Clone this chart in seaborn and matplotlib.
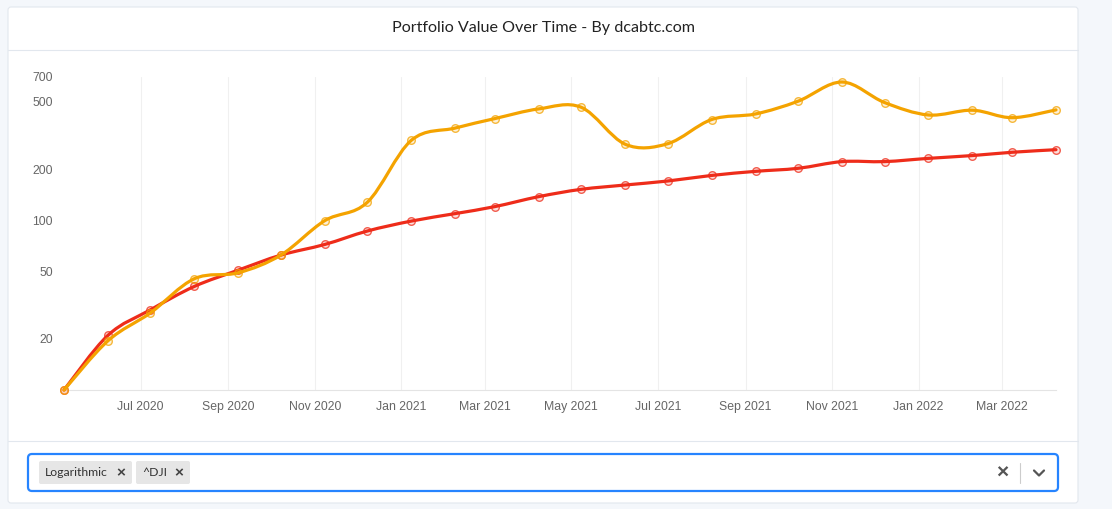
import numpy as np
import pandas as pd
import seaborn as sns
import matplotlib
matplotlib.use("Agg")
import matplotlib.pyplot as plt
import matplotlib.dates as mdates
from matplotlib.path import Path
from matplotlib.patches import PathPatch, FancyBboxPatch

# data (monthly, log scale)
dates = pd.date_range("2020-05-01", "2022-04-01", freq="MS") + pd.Timedelta(days=7)
portfolio = [10, 19.5, 28.5, 45.3, 49.1, 62.4, 99.6, 127.7, 296, 350, 398, 454,
             464, 281, 283, 393, 424, 504, 654, 495, 418, 446, 403, 448]
dji = [10, 21, 29.7, 40.8, 50.9, 62.4, 72.1, 86.5, 99, 109.6, 120.5, 138,
       152.4, 161.6, 170.6, 184, 194.5, 202.7, 222, 222, 232, 241, 252, 261]
y_ticks = [20, 50, 100, 200, 500, 700]
tags = ["Logarithmic", "^DJI"]
title = "Portfolio Value Over Time - By dcabtc.com"

ORANGE = "#f4a300"
RED = "#ee2c1a"
W, H = 1112, 509

sns.set_style("white")
plt.rcParams["font.family"] = ["Liberation Sans", "DejaVu Sans"]


def px_rect(l, t, r, b):
    return [l / W, 1 - b / H, (r - l) / W, (b - t) / H]


def smooth_path(x, y):
    """cubic bezier through the points (catmull-rom tangents, in log-y space)"""
    pts = np.column_stack([mdates.date2num(x), np.log10(y)])
    n = len(pts)
    verts = [pts[0]]
    codes = [Path.MOVETO]
    for i in range(n - 1):
        p0, p1 = pts[max(i - 1, 0)], pts[i]
        p2, p3 = pts[i + 1], pts[min(i + 2, n - 1)]
        verts += [p1 + (p2 - p0) / 6, p2 - (p3 - p1) / 6, p2]
        codes += [Path.CURVE4] * 3
    verts = np.array(verts)
    verts[:, 1] = 10 ** verts[:, 1]
    return Path(verts, codes)


fig = plt.figure(figsize=(W / 100, H / 100), dpi=100)
fig.patch.set_facecolor("#f4f7fb")

# background / card ui layer
ui = fig.add_axes([0, 0, 1, 1], zorder=0)
ui.set_xlim(0, W)
ui.set_ylim(H, 0)
ui.axis("off")
ui.add_patch(FancyBboxPatch((8, 7), 1070, 496, boxstyle="round,pad=0,rounding_size=3",
                            fc="white", ec="#e2e7ee", lw=0.8))
ui.plot([8, 1078], [50, 50], color="#e2e7ee", lw=0.8)
ui.plot([8, 1078], [441, 441], color="#e2e7ee", lw=0.8)
ui.text(543, 28, title, ha="center", va="center", fontsize=11.6, color="#222222",
        family=["Lato", "DejaVu Sans"])

# select box
ui.add_patch(FancyBboxPatch((28, 454), 1030, 37, boxstyle="round,pad=0,rounding_size=4",
                            fc="white", ec="#2684ff", lw=1.6))
tag_x = 39
for t in tags:
    tw = 93 if t == "Logarithmic" else 54
    ui.add_patch(FancyBboxPatch((tag_x, 461), tw, 23, boxstyle="round,pad=0,rounding_size=2",
                                fc="#e6e6e6", ec="none"))
    ui.text(tag_x + 6, 472.5, t, ha="left", va="center", fontsize=8.8, color="#333333",
            family=["Lato", "DejaVu Sans"])
    ui.text(tag_x + tw - 11, 473, "\u00d7", ha="center", va="center", fontsize=11,
            color="#444444", fontweight="bold")
    tag_x += tw + 4
ui.text(1002, 473, "\u00d7", ha="center", va="center", fontsize=15, color="#555555",
        fontweight="bold")
ui.plot([1020, 1020], [463, 483], color="#cccccc", lw=0.8)
ui.plot([1034, 1039, 1044], [470.5, 475.5, 470.5], color="#555555", lw=1.6,
        solid_capstyle="round", solid_joinstyle="round")

# chart
ax = fig.add_axes(px_rect(64, 77, 1056, 390), zorder=1)
ax.patch.set_alpha(0)
ax.set_yscale("log")
ax.set_ylim(10, 700)
ax.set_xlim(mdates.date2num(dates[0]), mdates.date2num(dates[-1]))

for vals, color, z in [(dji, RED, 3), (portfolio, ORANGE, 4)]:
    ax.add_patch(PathPatch(smooth_path(dates, vals), fc="none", ec=color, lw=2.3,
                           zorder=z, clip_on=False, capstyle="round"))
    sns.scatterplot(x=dates, y=vals, ax=ax, s=30, marker="o",
                    facecolor=matplotlib.colors.to_rgba(color, 0.15),
                    edgecolor=matplotlib.colors.to_rgba(color, 0.75),
                    linewidth=1.0, zorder=z + 0.5, clip_on=False, legend=False)

ax.yaxis.set_major_locator(matplotlib.ticker.FixedLocator(y_ticks))
ax.yaxis.set_major_formatter(matplotlib.ticker.FixedFormatter([str(v) for v in y_ticks]))
ax.yaxis.set_minor_locator(matplotlib.ticker.NullLocator())
ax.xaxis.set_major_locator(mdates.MonthLocator(bymonth=[1, 3, 5, 7, 9, 11]))
ax.xaxis.set_major_formatter(mdates.DateFormatter("%b %Y"))
ax.tick_params(axis="both", length=0, labelsize=8.8, labelcolor="#666666")
ax.tick_params(axis="y", pad=8)
ax.tick_params(axis="x", pad=8)
ax.grid(axis="x", color="#f0f0f0", lw=0.8)
ax.grid(axis="y", visible=False)
ax.set_xlabel("")
ax.set_ylabel("")
for s in ["top", "right", "left"]:
    ax.spines[s].set_visible(False)
ax.spines["bottom"].set_color("#e4e4e4")
ax.spines["bottom"].set_linewidth(0.8)

fig.savefig("out.png", dpi=100, facecolor=fig.get_facecolor())
